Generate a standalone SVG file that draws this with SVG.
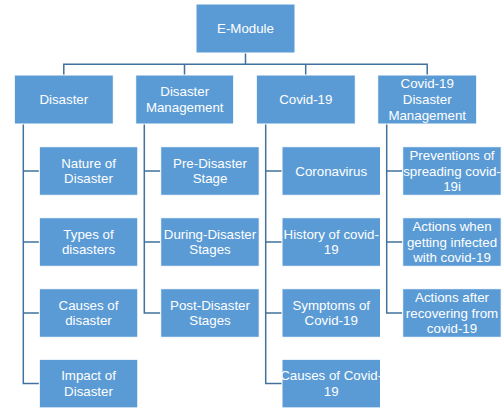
<svg xmlns="http://www.w3.org/2000/svg" width="504" height="409" viewBox="0 0 504 409">
<style>
.box{fill:#5B9BD5;stroke:#ffffff;stroke-width:1}
.t{font-family:"Liberation Sans",Arial,sans-serif;font-size:13.3px;fill:#ffffff;text-anchor:middle}
.c{fill:none;stroke:#41719C;stroke-width:1.5}
</style>
<rect width="504" height="409" fill="#ffffff"/>
<g id="connectors">
<path class="c" d="M245.5,53V64.3M63.8,75V64.3H427.2V75M184.5,64.3V75M305.7,64.3V75"/>
<path class="c" d="M23.3,124V383.6H39.3M23.3,171H39.3M23.3,242H39.3M23.3,313H39.3"/>
<path class="c" d="M144.3,124V313H160.7M144.3,171H160.7M144.3,242H160.7"/>
<path class="c" d="M265.7,124V383.6H282M265.7,171H282M265.7,242H282M265.7,313H282"/>
<path class="c" d="M386.7,124V313H402.7M386.7,171H402.7M386.7,242H402.7"/>
</g>
<g id="root"><rect class="box" x="196" y="4" width="99" height="49"/><text class="t" x="245.5" y="33">E-Module</text></g>
<g id="disaster"><rect class="box" x="14.3" y="75" width="99" height="49"/><text class="t" x="63.8" y="104">Disaster</text></g>
<g id="disaster-management"><rect class="box" x="135.7" y="75" width="98" height="49"/><text class="t" x="184.7" y="96.2">Disaster</text><text class="t" x="184.7" y="111.8">Management</text></g>
<g id="covid19"><rect class="box" x="256.3" y="75" width="99" height="49"/><text class="t" x="305.8" y="104">Covid-19</text></g>
<g id="covid19-dm"><rect class="box" x="377.7" y="75" width="99" height="49"/><text class="t" x="427.2" y="88.3">Covid-19</text><text class="t" x="427.2" y="104">Disaster</text><text class="t" x="427.2" y="119.7">Management</text></g>

<g id="nature"><rect class="box" x="39.3" y="146.7" width="98.5" height="48.6"/><text class="t" x="88.5" y="167.7">Nature of</text><text class="t" x="88.5" y="183.3">Disaster</text></g>
<g id="types"><rect class="box" x="39.3" y="217.7" width="98.5" height="48.6"/><text class="t" x="88.5" y="238.7">Types of</text><text class="t" x="88.5" y="254.3">disasters</text></g>
<g id="causes"><rect class="box" x="39.3" y="288.7" width="98.5" height="48.6"/><text class="t" x="88.5" y="309.7">Causes of</text><text class="t" x="88.5" y="325.3">disaster</text></g>
<g id="impact"><rect class="box" x="39.3" y="359.3" width="98.5" height="48.6"/><text class="t" x="88.5" y="380.3">Impact of</text><text class="t" x="88.5" y="395.9">Disaster</text></g>

<g id="pre"><rect class="box" x="160.7" y="146.7" width="98.5" height="48.6"/><text class="t" x="210" y="167.7">Pre-Disaster</text><text class="t" x="210" y="183.3">Stage</text></g>
<g id="during"><rect class="box" x="160.7" y="217.7" width="98.5" height="48.6"/><text class="t" x="210" y="238.7">During-Disaster</text><text class="t" x="210" y="254.3">Stages</text></g>
<g id="post"><rect class="box" x="160.7" y="288.7" width="98.5" height="48.6"/><text class="t" x="210" y="309.7">Post-Disaster</text><text class="t" x="210" y="325.3">Stages</text></g>

<g id="coronavirus"><rect class="box" x="282" y="146.7" width="98.5" height="48.6"/><text class="t" x="331.2" y="175.5">Coronavirus</text></g>
<g id="history"><rect class="box" x="282" y="217.7" width="98.5" height="48.6"/><text class="t" x="331.2" y="238.7">History of covid-</text><text class="t" x="331.2" y="254.3">19</text></g>
<g id="symptoms"><rect class="box" x="282" y="288.7" width="98.5" height="48.6"/><text class="t" x="331.2" y="309.7">Symptoms of</text><text class="t" x="331.2" y="325.3">Covid-19</text></g>
<g id="causes-covid"><rect class="box" x="282" y="359.3" width="98.5" height="48.6"/><text class="t" x="331.2" y="380.3">Causes of Covid-</text><text class="t" x="331.2" y="395.9">19</text></g>

<g id="preventions"><rect class="box" x="402.7" y="146.7" width="98.5" height="48.6"/><text class="t" x="452" y="159.8">Preventions of</text><text class="t" x="452" y="175.5">spreading covid-</text><text class="t" x="452" y="191.2">19i</text></g>
<g id="actions-infected"><rect class="box" x="402.7" y="217.7" width="98.5" height="48.6"/><text class="t" x="452" y="230.8">Actions when</text><text class="t" x="452" y="246.5">getting infected</text><text class="t" x="452" y="262.2">with covid-19</text></g>
<g id="actions-after"><rect class="box" x="402.7" y="288.7" width="98.5" height="48.6"/><text class="t" x="452" y="301.8">Actions after</text><text class="t" x="452" y="317.5">recovering from</text><text class="t" x="452" y="333.2">covid-19</text></g>
</svg>
